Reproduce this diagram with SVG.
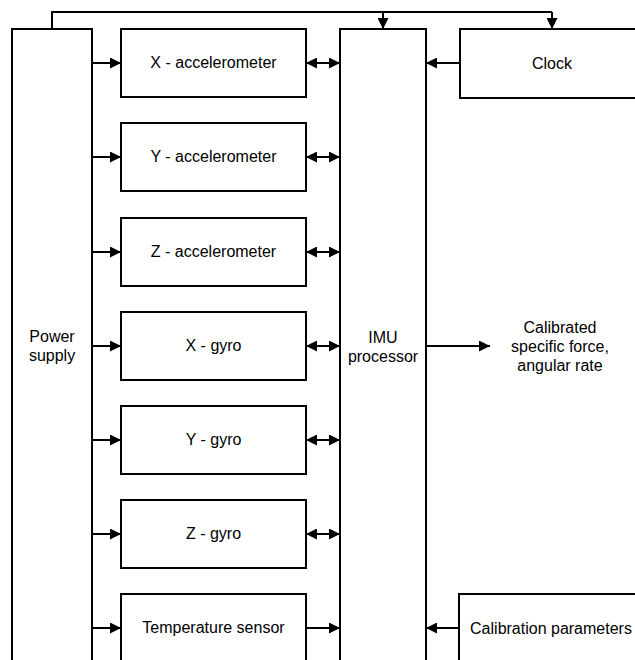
<svg xmlns="http://www.w3.org/2000/svg" width="635" height="660" viewBox="0 0 635 660">
  <style>
    .box { fill: #ffffff; stroke: #000000; stroke-width: 2; }
    .wire { fill: none; stroke: #000000; stroke-width: 2; }
    text { font-family: "Liberation Sans", Arial, sans-serif; font-size: 16px; fill: #000000; text-anchor: middle; }
  </style>
  <defs>
    <marker id="head" viewBox="0 0 10 10" refX="10" refY="5" markerWidth="11" markerHeight="11" markerUnits="userSpaceOnUse" orient="auto-start-reverse">
      <path d="M0,0 L10,5 L0,10 z" fill="#000000"/>
    </marker>
  </defs>

  <rect width="635" height="660" fill="#ffffff"/>

  <!-- Blocks -->
  <g id="power-supply">
    <rect class="box" x="12" y="29" width="80" height="660"/>
    <text x="52" y="342">Power</text>
    <text x="52" y="361">supply</text>
  </g>
  <g id="x-accelerometer">
    <rect class="box" x="121" y="29" width="185" height="68"/>
    <text x="213.5" y="68">X - accelerometer</text>
  </g>
  <g id="y-accelerometer">
    <rect class="box" x="121" y="123" width="185" height="68"/>
    <text x="213.5" y="162">Y - accelerometer</text>
  </g>
  <g id="z-accelerometer">
    <rect class="box" x="121" y="218" width="185" height="68"/>
    <text x="213.5" y="257">Z - accelerometer</text>
  </g>
  <g id="x-gyro">
    <rect class="box" x="121" y="312" width="185" height="68"/>
    <text x="213.5" y="351">X - gyro</text>
  </g>
  <g id="y-gyro">
    <rect class="box" x="121" y="406" width="185" height="68"/>
    <text x="213.5" y="445">Y - gyro</text>
  </g>
  <g id="z-gyro">
    <rect class="box" x="121" y="500" width="185" height="68"/>
    <text x="213.5" y="539">Z - gyro</text>
  </g>
  <g id="temperature-sensor">
    <rect class="box" x="121" y="594" width="185" height="100"/>
    <text x="213.5" y="633">Temperature sensor</text>
  </g>
  <g id="imu-processor">
    <rect class="box" x="340" y="29" width="86" height="660"/>
    <text x="383" y="343">IMU</text>
    <text x="383" y="362">processor</text>
  </g>
  <g id="clock">
    <rect class="box" x="460" y="29" width="184" height="69"/>
    <text x="552" y="69">Clock</text>
  </g>
  <g id="calibration-parameters">
    <rect class="box" x="459" y="594" width="185" height="100"/>
    <text x="551" y="634">Calibration parameters</text>
  </g>
  <g id="output">
    <text x="560" y="333">Calibrated</text>
    <text x="560" y="352">specific force,</text>
    <text x="560" y="371">angular rate</text>
  </g>

  <!-- Connectors -->
  <g id="connectors">
    <!-- power distribution bus over the top -->
    <path class="wire" d="M52,29 V12 H552"/>
    <path class="wire" d="M383,12 V29" marker-end="url(#head)"/>
    <path class="wire" d="M552,12 V29" marker-end="url(#head)"/>

    <!-- power to each sensor -->
    <path class="wire" d="M92,63 H121" marker-end="url(#head)"/>
    <path class="wire" d="M92,157 H121" marker-end="url(#head)"/>
    <path class="wire" d="M92,252 H121" marker-end="url(#head)"/>
    <path class="wire" d="M92,346 H121" marker-end="url(#head)"/>
    <path class="wire" d="M92,440 H121" marker-end="url(#head)"/>
    <path class="wire" d="M92,534 H121" marker-end="url(#head)"/>
    <path class="wire" d="M92,628 H121" marker-end="url(#head)"/>

    <!-- sensor links to processor -->
    <path class="wire" d="M306,63 H340" marker-start="url(#head)" marker-end="url(#head)"/>
    <path class="wire" d="M306,157 H340" marker-start="url(#head)" marker-end="url(#head)"/>
    <path class="wire" d="M306,252 H340" marker-start="url(#head)" marker-end="url(#head)"/>
    <path class="wire" d="M306,346 H340" marker-start="url(#head)" marker-end="url(#head)"/>
    <path class="wire" d="M306,440 H340" marker-start="url(#head)" marker-end="url(#head)"/>
    <path class="wire" d="M306,534 H340" marker-start="url(#head)" marker-end="url(#head)"/>
    <path class="wire" d="M306,628 H340" marker-end="url(#head)"/>

    <!-- clock and calibration into processor -->
    <path class="wire" d="M460,63 H426" marker-end="url(#head)"/>
    <path class="wire" d="M459,628 H426" marker-end="url(#head)"/>

    <!-- processor output -->
    <path class="wire" d="M426,346 H490" marker-end="url(#head)"/>
  </g>
</svg>
